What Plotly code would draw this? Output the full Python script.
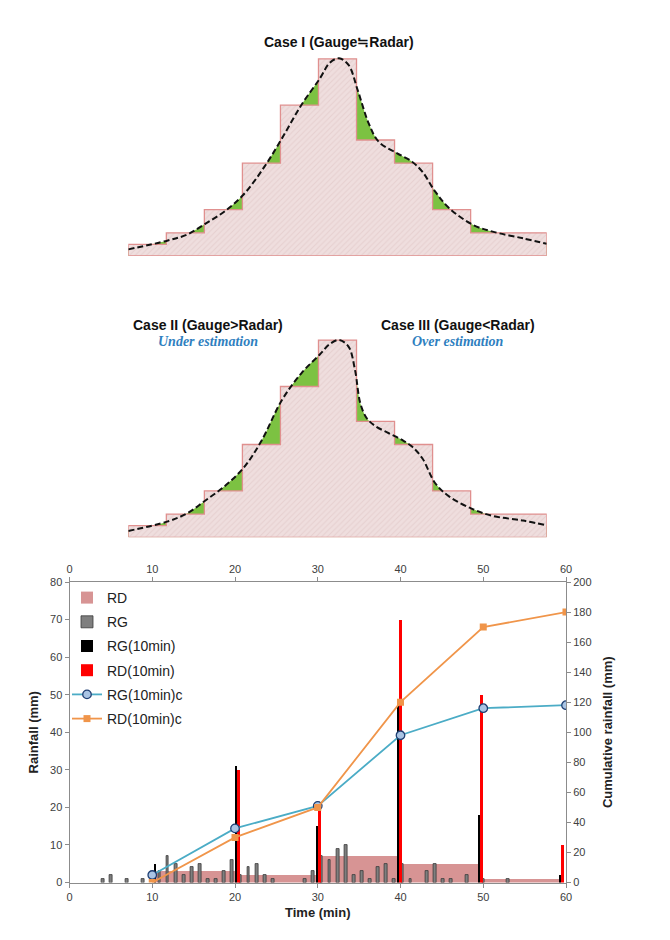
import plotly.graph_objects as go

W, H = 670, 940
PAGE_OFFSET = 8  # default body margin of the html page

# ---------------- schematic diagrams (Case I / Case II-III) ----------------
step_edges = [0, 1, 2, 3, 4, 5, 6, 7, 8, 9, 11]
step_heights = [1, 2, 4, 8, 13, 17, 10, 8, 4, 2]

case1_cx = [0.0, 1.02, 1.55, 2.01, 2.52, 3.02, 3.58, 4.04, 4.55, 5.04, 5.30, 5.54,
            5.79, 6.03, 6.32, 6.58, 7.07, 7.46, 7.73, 8.07, 8.44, 9.07, 9.58, 10.38, 11.0]
case1_cy = [0.57, 1.32, 1.85, 2.75, 3.82, 5.26, 7.70, 10.14, 13.02, 15.32, 16.67, 17.04,
            16.47, 14.31, 11.44, 9.86, 8.85, 8.13, 7.27, 5.55, 4.11, 2.67, 2.10, 1.52, 1.05]

case2_cx = [0.0, 1.02, 1.55, 2.01, 2.52, 3.02, 3.49, 4.04, 4.55, 5.04, 5.30, 5.54,
            5.79, 5.96, 6.10, 6.27, 6.49, 6.85, 7.20, 7.46, 7.73, 8.07, 8.44, 9.07,
            9.58, 10.38, 11.0]
case2_cy = [0.55, 1.35, 2.07, 3.13, 4.37, 5.95, 8.25, 11.84, 14.14, 15.78, 16.67, 17.01,
            16.44, 14.43, 11.55, 10.26, 9.60, 8.97, 8.39, 7.82, 6.81, 4.66, 3.51, 2.41,
            1.84, 1.44, 1.03]

# ---------------- bottom chart data ----------------
rg_minutes = [4, 5, 7, 9, 11, 12, 13, 14, 15, 16, 17, 18, 19, 20, 21, 22, 23, 24, 25, 29,
              30, 31, 32, 33, 34, 35, 36, 37, 38, 39, 40, 41, 42, 44, 45, 46, 47, 49, 51, 54]
rg_values = [1, 2, 1, 1, 3, 7, 5, 2, 4, 5, 1, 1, 3, 6, 2, 4, 5, 2, 1, 1,
             3, 7, 6, 9, 10, 2, 3, 1, 4, 5, 1, 5, 1, 3, 5, 1, 1, 2, 1, 1]
rd_block_end = [20, 30, 40, 50, 60]
rd_block_values = [3, 2, 7, 5, 1]
ten_min = [10, 20, 30, 40, 50, 60]
rg10 = [5, 31, 15, 47, 18, 2]
rd10 = [0, 30, 20, 70, 50, 10]
rg10c = [5, 36, 51, 98, 116, 118]
rd10c = [0, 30, 50, 120, 170, 180]
time_ticks = [0, 10, 20, 30, 40, 50, 60]

FONT = "Arial, Liberation Sans, sans-serif"
SERIF = "Liberation Serif, Times New Roman, serif"


def px_x(p):
    return (p - PAGE_OFFSET) / W


def px_y(p):
    return (H - (p - PAGE_OFFSET)) / H


fig = go.Figure()

# empty trace so that the main (bottom/left) subplot exists
fig.add_trace(go.Scatter(x=[], y=[], xaxis="x", yaxis="y", showlegend=False, hoverinfo="skip"))

# ---- bottom chart: bars on a hidden minute axis (x2) ----
fig.add_trace(go.Bar(x=rd_block_end, y=rd_block_values, width=10, offset=-9.5,
                     marker=dict(color="#d79494", line=dict(width=0)),
                     name="RD", xaxis="x2", yaxis="y", legendgroup="g1"))
fig.add_trace(go.Bar(x=rg_minutes, y=rg_values, width=0.34, offset=-0.17,
                     marker=dict(color="#7f7f7f", line=dict(color="#3a3a3a", width=0.8)),
                     name="RG", xaxis="x2", yaxis="y", legendgroup="g2"))
fig.add_trace(go.Bar(x=ten_min, y=rg10, width=0.34, offset=0.21,
                     marker=dict(color="#000000", line=dict(width=0)),
                     name="RG(10min)", xaxis="x2", yaxis="y", legendgroup="g3"))
fig.add_trace(go.Bar(x=ten_min, y=rd10, width=0.34, offset=0.5,
                     marker=dict(color="#ff0000", line=dict(width=0)),
                     name="RD(10min)", xaxis="x2", yaxis="y", legendgroup="g4"))
# ---- cumulative lines on the top time axis (x3) + right axis (y2) ----
fig.add_trace(go.Scatter(x=ten_min, y=rg10c, mode="lines+markers", name="RG(10min)c",
                         line=dict(color="#4bacc6", width=1.8),
                         marker=dict(symbol="circle", size=8.5, color="#a9c4e4",
                                     line=dict(color="#1f3f73", width=1.3)),
                         xaxis="x3", yaxis="y2", legendgroup="g5"))
fig.add_trace(go.Scatter(x=ten_min, y=rd10c, mode="lines+markers", name="RD(10min)c",
                         line=dict(color="#f0954a", width=1.8),
                         marker=dict(symbol="square", size=7, color="#f0954a",
                                     line=dict(width=0)),
                         xaxis="x3", yaxis="y2", legendgroup="g6"))


# ---- schematic diagrams ----
def stair_polygon(edges, heights):
    xs, ys = [edges[0]], [0]
    for i, h in enumerate(heights):
        xs += [edges[i], edges[i + 1]]
        ys += [h, h]
    xs += [edges[-1], edges[0]]
    ys += [0, 0]
    return xs, ys


sx, sy = stair_polygon(step_edges, step_heights)
for (cx, cy, xa, ya) in [(case1_cx, case1_cy, "x4", "y4"), (case2_cx, case2_cy, "x5", "y5")]:
    fig.add_trace(go.Scatter(x=cx, y=cy, mode="lines", line=dict(shape="spline", width=0, color="#7cc242"),
                             fill="tozeroy", fillcolor="#7cc242", showlegend=False,
                             hoverinfo="skip", xaxis=xa, yaxis=ya))
    fig.add_trace(go.Scatter(x=sx, y=sy, mode="lines", fill="toself", fillcolor="#ecd9d9",
                             fillpattern=dict(shape="/", fgcolor="#dcc0c0", bgcolor="#efdede",
                                              size=4, solidity=0.25),
                             line=dict(color="#e0908f", width=1.3), showlegend=False,
                             hoverinfo="skip", xaxis=xa, yaxis=ya))
    fig.add_trace(go.Scatter(x=cx, y=cy, mode="lines",
                             line=dict(shape="spline", width=2, color="#111111", dash="6px,3px"),
                             showlegend=False, hoverinfo="skip", xaxis=xa, yaxis=ya))


def ann(text, x, y, size, color="#111111", family=FONT):
    fig.add_annotation(text=text, x=px_x(x), y=px_y(y), xref="paper", yref="paper",
                       showarrow=False, font=dict(size=size, color=color, family=family),
                       xanchor="center", yanchor="middle")


ann("<b>Case I (Gauge≒Radar)</b>", 339, 42, 14)
ann("<b>Case II (Gauge>Radar)</b>", 207.5, 325, 14)
ann("<b>Case III (Gauge<Radar)</b>", 457.5, 325, 14)
ann("<b><i>Under estimation</i></b>", 208, 341.5, 14, "#2f7fc0", SERIF)
ann("<b><i>Over estimation</i></b>", 457.5, 341.5, 14, "#2f7fc0", SERIF)

# ---- layout ----
xd = [px_x(69.5), px_x(566)]
yd = [px_y(882.5), px_y(582)]
dxd = [px_x(128.3), px_x(546.7)]
axis_common = dict(showline=True, linecolor="#8c8c8c", linewidth=1, ticks="outside",
                   tickcolor="#8c8c8c", ticklen=4, showgrid=False, zeroline=False,
                   tickfont=dict(size=11, color="#404040", family=FONT), automargin=False)
title_font = dict(size=13, color="#222222", family=FONT)

fig.update_layout(
    width=W, height=H, autosize=False,
    margin=dict(l=0, r=0, t=0, b=0),
    paper_bgcolor="white", plot_bgcolor="rgba(0,0,0,0)",
    barmode="overlay", bargap=0,
    font=dict(family=FONT, color="#222222"),
    showlegend=True,
    legend=dict(x=px_x(67), y=px_y(582), xanchor="left", yanchor="top",
                bgcolor="rgba(0,0,0,0)", font=dict(size=14, color="#222222", family=FONT),
                tracegroupgap=3, itemwidth=30),
    xaxis=dict(domain=xd, range=[0, 60], tickvals=time_ticks, anchor="y",
               title=dict(text="<b>Time (min)</b>", font=title_font, standoff=6),
               **axis_common),
    xaxis2=dict(domain=xd, range=[-0.102, 61.19], anchor="y", overlaying="x", visible=False),
    xaxis3=dict(domain=xd, range=[0, 60], tickvals=time_ticks, anchor="y2",
                overlaying="x", side="top", **axis_common),
    yaxis=dict(domain=yd, range=[0, 80], tickvals=list(range(0, 81, 10)), anchor="x",
               title=dict(text="<b>Rainfall (mm)</b>", font=title_font, standoff=8),
               **axis_common),
    yaxis2=dict(domain=yd, range=[0, 200], tickvals=list(range(0, 201, 20)), anchor="x3",
                overlaying="y", side="right",
                title=dict(text="<b>Cumulative rainfall (mm)</b>", font=title_font, standoff=12),
                **axis_common),
    xaxis4=dict(domain=dxd, range=[0, 11], visible=False, anchor="y4"),
    yaxis4=dict(domain=[px_y(256), px_y(47.2)], range=[0, 18], visible=False, anchor="x4"),
    xaxis5=dict(domain=dxd, range=[0, 11], visible=False, anchor="y5"),
    yaxis5=dict(domain=[px_y(537.3), px_y(328.5)], range=[0, 18], visible=False, anchor="x5"),
)

fig.write_html("out.html")
